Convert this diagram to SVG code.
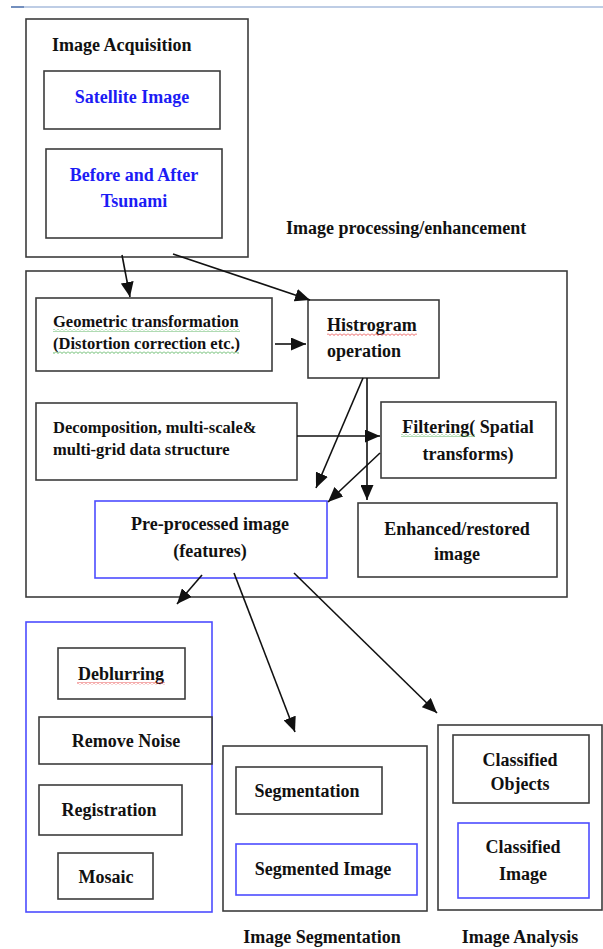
<svg xmlns="http://www.w3.org/2000/svg" width="603" height="949" viewBox="0 0 603 949">
<style>
  text { font-family: "Liberation Serif", "Times New Roman", serif; font-weight: bold; font-size: 18px; fill: #111; }
  .c { text-anchor: middle; }
  .blue { fill: #1c1cf5; }
  .sm { font-size: 16.5px; }
  .box { fill: #fff; stroke: #3c3c3c; stroke-width: 1.6; }
  .bbox { fill: #fff; stroke: #4d4dff; stroke-width: 1.6; }
  .edge { stroke: #111; stroke-width: 1.6; fill: none; marker-end: url(#ah); }
</style>
<defs>
  <marker id="ah" markerUnits="userSpaceOnUse" markerWidth="16" markerHeight="13" refX="15" refY="6.5" orient="auto">
    <path d="M0,0 L15,6.5 L0,13 Z" fill="#111"/>
  </marker>
  <pattern id="wavyG" width="4" height="3" patternUnits="userSpaceOnUse">
    <path d="M0,0.5 L2,2.5 L4,0.5" stroke="#3aa640" stroke-width="0.8" fill="none"/>
  </pattern>
  <pattern id="wavyR" width="4" height="3" patternUnits="userSpaceOnUse">
    <path d="M0,0.5 L2,2.5 L4,0.5" stroke="#e53030" stroke-width="0.8" fill="none"/>
  </pattern>
</defs>
<rect width="603" height="949" fill="#fff"/>
<line x1="11" y1="7" x2="603" y2="7" stroke="#a9bcdc" stroke-width="1.5"/>
<line x1="11" y1="7" x2="24" y2="7" stroke="#5a7ab0" stroke-width="1.5"/>

<g id="acquisition">
  <rect class="box" x="26" y="19" width="222" height="238"/>
  <text x="52" y="51">Image Acquisition</text>
</g>
<g id="satellite">
  <rect class="box" x="44" y="71" width="176" height="58"/>
  <text class="c blue" x="132" y="103">Satellite Image</text>
</g>
<g id="before-after">
  <rect class="box" x="46" y="149" width="176" height="89"/>
  <text class="c blue" x="134" y="181">Before and After</text>
  <text class="c blue" x="134" y="207">Tsunami</text>
</g>

<g id="processing">
  <text x="286" y="234">Image processing/enhancement</text>
  <rect class="box" x="26" y="271" width="541" height="326"/>
</g>
<g id="geometric">
  <rect class="box" x="36" y="298" width="236" height="73"/>
  <text class="sm" x="53" y="327">Geometric transformation</text>
  <text class="sm" x="53" y="349">(Distortion correction etc.)</text>
  <rect x="53" y="329" width="187" height="3" fill="url(#wavyG)"/>
  <rect x="53" y="351" width="186" height="3" fill="url(#wavyG)"/>
</g>
<g id="histogram">
  <rect class="box" x="308" y="300" width="131" height="78"/>
  <text x="327" y="331">Histrogram</text>
  <text x="327" y="357">operation</text>
  <rect x="327" y="333" width="90" height="3" fill="url(#wavyR)"/>
</g>
<g id="decomposition">
  <rect class="box" x="36" y="403" width="261" height="77"/>
  <text class="sm" x="53" y="433">Decomposition, multi-scale&amp;</text>
  <text class="sm" x="53" y="455">multi-grid data structure</text>
</g>
<g id="filtering">
  <rect class="box" x="381" y="402" width="175" height="76"/>
  <text class="c" x="468" y="433">Filtering( Spatial</text>
  <text class="c" x="468" y="460">transforms)</text>
  <rect x="401" y="434" width="74" height="3" fill="url(#wavyG)"/>
</g>
<g id="preprocessed">
  <rect class="bbox" x="95" y="501" width="232" height="77"/>
  <text class="c" x="210" y="530">Pre-processed image</text>
  <text class="c" x="210" y="557">(features)</text>
</g>
<g id="enhanced">
  <rect class="box" x="358" y="503" width="199" height="74"/>
  <text class="c" x="457" y="535">Enhanced/restored</text>
  <text class="c" x="457" y="560">image</text>
</g>

<g id="restoration-group">
  <rect class="bbox" x="26" y="622" width="186" height="290"/>
</g>
<g id="deblurring">
  <rect class="box" x="58" y="648" width="127" height="51"/>
  <text class="c" x="121" y="680">Deblurring</text>
  <rect x="77" y="682" width="88" height="3" fill="url(#wavyR)"/>
</g>
<g id="remove-noise">
  <rect class="box" x="39" y="717" width="173" height="47"/>
  <text class="c" x="126" y="747">Remove Noise</text>
</g>
<g id="registration">
  <rect class="box" x="39" y="785" width="143" height="50"/>
  <text class="c" x="109" y="816">Registration</text>
</g>
<g id="mosaic">
  <rect class="box" x="58" y="853" width="95" height="46"/>
  <text class="c" x="106" y="883">Mosaic</text>
</g>

<g id="segmentation-group">
  <rect class="box" x="223" y="746" width="204" height="165"/>
  <text class="c" x="322" y="943">Image Segmentation</text>
</g>
<g id="segmentation">
  <rect class="box" x="236" y="767" width="146" height="47"/>
  <text class="c" x="307" y="797">Segmentation</text>
</g>
<g id="segmented-image">
  <rect class="bbox" x="236" y="844" width="181" height="51"/>
  <text class="c" x="323" y="875">Segmented Image</text>
</g>

<g id="analysis-group">
  <rect class="box" x="438" y="725" width="164" height="185"/>
  <text class="c" x="520" y="943">Image Analysis</text>
</g>
<g id="classified-objects">
  <rect class="box" x="453" y="735" width="136" height="68"/>
  <text class="c" x="520" y="766">Classified</text>
  <text class="c" x="520" y="790">Objects</text>
</g>
<g id="classified-image">
  <rect class="bbox" x="458" y="823" width="131" height="75"/>
  <text class="c" x="523" y="853">Classified</text>
  <text class="c" x="523" y="880">Image</text>
</g>

<g id="connectors">
  <line class="edge" x1="122" y1="255" x2="130" y2="297"/>
  <line class="edge" x1="173" y1="254" x2="310" y2="300"/>
  <line class="edge" x1="275" y1="344" x2="306" y2="344"/>
  <line class="edge" x1="363" y1="378" x2="316" y2="488"/>
  <line class="edge" x1="367" y1="378" x2="367" y2="500"/>
  <line class="edge" x1="297" y1="436" x2="380" y2="436"/>
  <line class="edge" x1="380" y1="453" x2="328" y2="502"/>
  <line class="edge" x1="202" y1="575" x2="177" y2="604"/>
  <line class="edge" x1="234" y1="573" x2="295" y2="732"/>
  <line class="edge" x1="294" y1="573" x2="437" y2="713"/>
</g>
</svg>
